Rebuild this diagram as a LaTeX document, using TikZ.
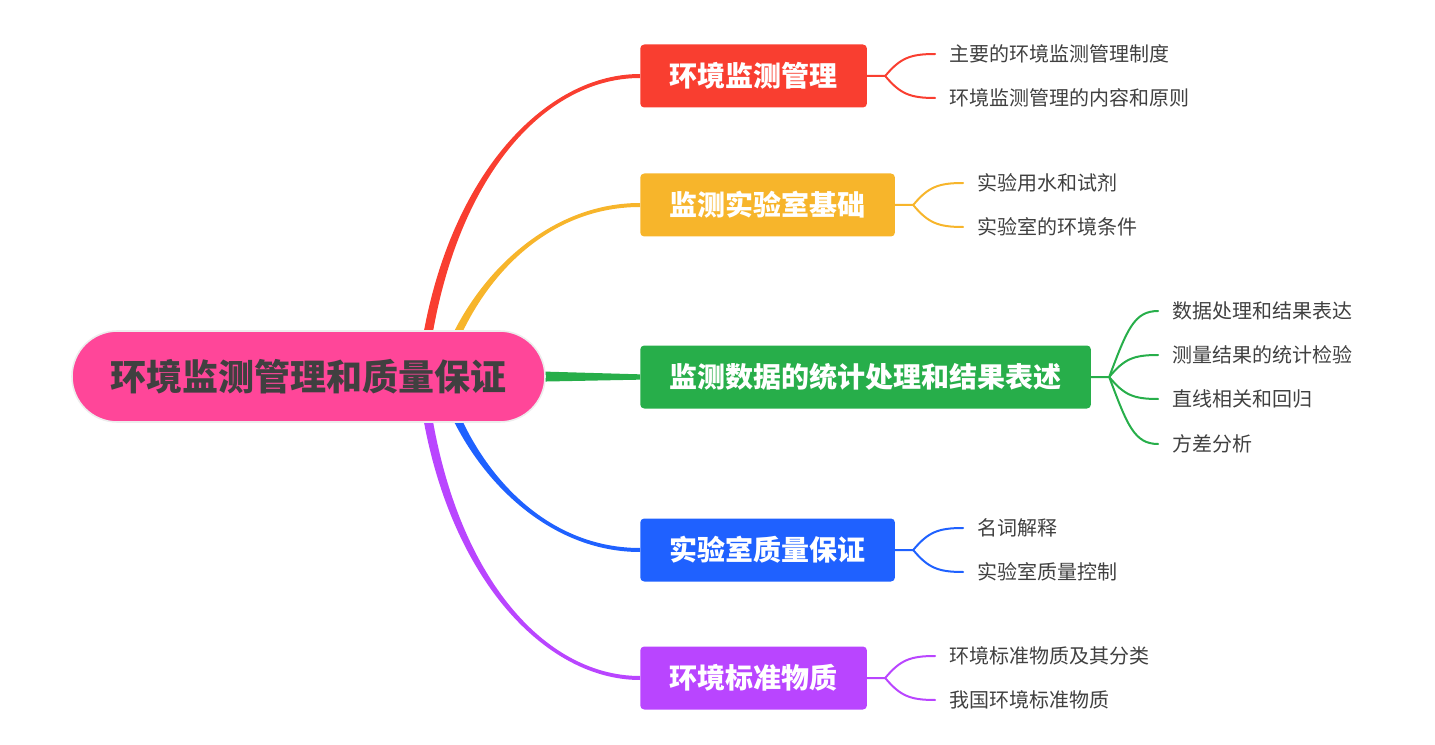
\documentclass[tikz,border=0pt]{standalone}
\usepackage{fontspec}
\newfontfamily\cjk{Noto Sans CJK SC}
\usetikzlibrary{calc,backgrounds}

\definecolor{cpink}{HTML}{FF4699}
\definecolor{cred}{HTML}{F93E30}
\definecolor{cyellow}{HTML}{F7B52B}
\definecolor{cgreen}{HTML}{27AE4A}
\definecolor{cblue}{HTML}{1F61FF}
\definecolor{cpurple}{HTML}{B945FF}
\definecolor{textgray}{HTML}{404040}

\begin{document}
\begin{tikzpicture}[x=0.75pt, y=-0.75pt, line join=round, line cap=round,
    rootnode/.style={rectangle, fill=cpink, draw=black!7, line width=1.2pt,
        rounded corners=34pt, minimum width=354.75pt, minimum height=68.25pt,
        text=textgray, font=\cjk\bfseries\fontsize{27pt}{27pt}\selectfont},
    box/.style={rectangle, rounded corners=3pt, anchor=west, text=white,
        minimum height=47.25pt, inner xsep=22pt,
        font=\cjk\bfseries\fontsize{21pt}{21pt}\selectfont},
    leaf/.style={anchor=west, inner xsep=10.5pt, inner ysep=0pt, text=textgray,
        font=\cjk\fontsize{15pt}{15pt}\selectfont},
    twig/.style={line width=1.5pt}]
    \useasboundingbox (0,0) rectangle (1435,745);

    % 中心主题
    \node[rootnode] (root) at (308.5,376.5) {环境监测管理和质量保证};

    % 分支起点 (在中心主题后面)
    \coordinate (s1) at ($(root.center)+(113.5,0)$);
    \coordinate (s2) at ($(root.center)+(131.5,3)$);
    \coordinate (s3) at ($(root.center)+(221.5,0)$);
    \coordinate (s4) at ($(root.center)+(131.5,-3)$);
    \coordinate (s5) at ($(root.center)+(113.5,0)$);

    % 二级主题
    \node[box, fill=cred] (env) at (640,76) {环境监测管理};
    \node[box, fill=cyellow] (lab) at (640,205) {监测实验室基础};
    \node[box, fill=cgreen] (data) at (640,377) {监测数据的统计处理和结果表述};
    \node[box, fill=cblue] (qa) at (640,550) {实验室质量保证};
    \node[box, fill=cpurple] (ref) at (640,678) {环境标准物质};

    % 分叉点
    \coordinate (jenv) at ($(env.east)+(18,0)$);
    \coordinate (jlab) at ($(lab.east)+(18,0)$);
    \coordinate (jdata) at ($(data.east)+(18,0)$);
    \coordinate (jqa) at ($(qa.east)+(18,0)$);
    \coordinate (jref) at ($(ref.east)+(18,0)$);

    % 三级主题
    \node[leaf] (env1) at ($(env.east)+(68,-22)$) {主要的环境监测管理制度};
    \node[leaf] (env2) at ($(env.east)+(68,22)$) {环境监测管理的内容和原则};
    \node[leaf] (lab1) at ($(lab.east)+(68,-22)$) {实验用水和试剂};
    \node[leaf] (lab2) at ($(lab.east)+(68,22)$) {实验室的环境条件};
    \node[leaf] (data1) at ($(data.east)+(67,-66)$) {数据处理和结果表达};
    \node[leaf] (data2) at ($(data.east)+(67,-22)$) {测量结果的统计检验};
    \node[leaf] (data3) at ($(data.east)+(67,22)$) {直线相关和回归};
    \node[leaf] (data4) at ($(data.east)+(67,67)$) {方差分析};
    \node[leaf] (qa1) at ($(qa.east)+(68,-22)$) {名词解释};
    \node[leaf] (qa2) at ($(qa.east)+(68,22)$) {实验室质量控制};
    \node[leaf] (ref1) at ($(ref.east)+(68,-22)$) {环境标准物质及其分类};
    \node[leaf] (ref2) at ($(ref.east)+(68,22)$) {我国环境标准物质};

    \begin{scope}[on background layer]
    % 粗分支 (渐细)
    \fill[cred] ([xshift=-3.5pt]s1) .. controls +(20,-190) and +(-100,0) .. ([yshift=1.5pt]env.west)
        -- ([yshift=-1.5pt]env.west) .. controls +(-100,0) and +(20,-190) .. ([xshift=3.5pt]s1) -- cycle;
    \fill[cyellow] ([xshift=-3.5pt]s2) .. controls +(25,-90) and +(-100,0) .. ([yshift=1.5pt]lab.west)
        -- ([yshift=-1.5pt]lab.west) .. controls +(-100,0) and +(25,-90) .. ([xshift=3.5pt]s2) -- cycle;
    \fill[cgreen] ([yshift=4pt]s3) -- ([yshift=2pt]data.west) -- ([yshift=-2pt]data.west)
        -- ([yshift=-4pt]s3) -- cycle;
    \fill[cblue] ([xshift=-3.5pt]s4) .. controls +(25,90) and +(-100,0) .. ([yshift=-1.5pt]qa.west)
        -- ([yshift=1.5pt]qa.west) .. controls +(-100,0) and +(25,90) .. ([xshift=3.5pt]s4) -- cycle;
    \fill[cpurple] ([xshift=-3.5pt]s5) .. controls +(20,190) and +(-100,0) .. ([yshift=-1.5pt]ref.west)
        -- ([yshift=1.5pt]ref.west) .. controls +(-100,0) and +(20,190) .. ([xshift=3.5pt]s5) -- cycle;
    \end{scope}

    % 细分支
    \draw[twig, cred] (env.east) -- (jenv) .. controls +(15,-18) and +(-25,0) .. (env1.west);
    \draw[twig, cred] (jenv) .. controls +(15,18) and +(-25,0) .. (env2.west);
    \draw[twig, cyellow] (lab.east) -- (jlab) .. controls +(15,-18) and +(-25,0) .. (lab1.west);
    \draw[twig, cyellow] (jlab) .. controls +(15,18) and +(-25,0) .. (lab2.west);
    \draw[twig, cgreen] (data.east) -- (jdata) .. controls +(18,-48) and +(-24,0) .. (data1.west);
    \draw[twig, cgreen] (jdata) .. controls +(15,-18) and +(-25,0) .. (data2.west);
    \draw[twig, cgreen] (jdata) .. controls +(15,18) and +(-25,0) .. (data3.west);
    \draw[twig, cgreen] (jdata) .. controls +(18,48) and +(-24,0) .. (data4.west);
    \draw[twig, cblue] (qa.east) -- (jqa) .. controls +(15,-18) and +(-25,0) .. (qa1.west);
    \draw[twig, cblue] (jqa) .. controls +(15,18) and +(-25,0) .. (qa2.west);
    \draw[twig, cpurple] (ref.east) -- (jref) .. controls +(15,-18) and +(-25,0) .. (ref1.west);
    \draw[twig, cpurple] (jref) .. controls +(15,18) and +(-25,0) .. (ref2.west);
\end{tikzpicture}
\end{document}
